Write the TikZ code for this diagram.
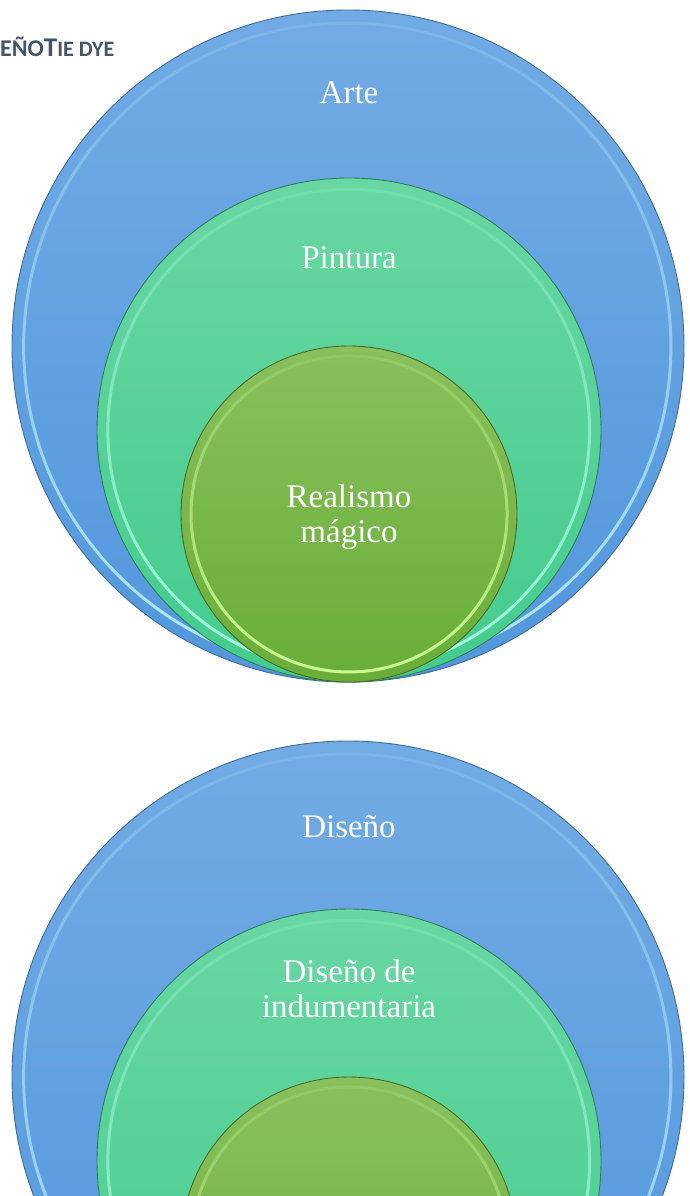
\documentclass[tikz,border=0pt]{standalone}
\usepackage{fontspec}
\setmainfont{Liberation Serif}
\newfontfamily\titlefont{Carlito}
\usetikzlibrary{fadings}
\definecolor{blueTop}{HTML}{72ABE4}
\definecolor{blueBot}{HTML}{5297DC}
\definecolor{blueEdge}{HTML}{3E6E9F}
\definecolor{blueLight}{HTML}{B4ECFF}
\definecolor{tealTop}{HTML}{69D7A3}
\definecolor{tealBot}{HTML}{44CB8D}
\definecolor{tealEdge}{HTML}{2F7F5C}
\definecolor{tealLight}{HTML}{A6FFE0}
\definecolor{greenTop}{HTML}{89C15D}
\definecolor{greenBot}{HTML}{69AD38}
\definecolor{greenEdge}{HTML}{4A6A27}
\definecolor{greenLight}{HTML}{CCFF96}
\definecolor{titlecol}{HTML}{44546A}
\tikzfading[name=rimfade, top color=transparent!85, bottom color=transparent!0]
\tikzset{
  blob/.style={circle, inner sep=0pt, minimum size=#1, line width=0.9pt},
  bluedisc/.style={blob=#1, draw=blueEdge, top color=blueTop, bottom color=blueBot},
  tealdisc/.style={blob=#1, draw=tealEdge, top color=tealTop, bottom color=tealBot},
  greendisc/.style={blob=#1, draw=greenEdge, top color=greenTop, bottom color=greenBot},
  rim/.style={line width=3pt, path fading=rimfade},
  lbl/.style={text=white, font=\fontsize{33}{35}\selectfont, align=center, inner sep=0pt},
  ttl/.style={text=titlecol, font=\titlefont\bfseries, inner sep=0pt, anchor=base west}
}
\begin{document}
\begin{tikzpicture}[x=1pt, y=-1pt]
\useasboundingbox (0,0) rectangle (689,1196);
\clip (0,0) rectangle (689,1196);
% ---- top diagram
\node[bluedisc=672pt] (arteC) at (348,346) {};
\draw[rim, blueLight] (arteC.center) circle[radius=324pt];
\node[tealdisc=504pt] (pintC) at (349,430) {};
\draw[rim, tealLight] (pintC.center) circle[radius=241pt];
\node[greendisc=336pt] (realC) at (349,514) {};
\draw[rim, greenLight] (realC.center) circle[radius=158pt];
\node[lbl, anchor=base] (arte) at (349,104) {Arte};
\node[lbl, anchor=base] (pint) at (349,268) {Pintura};
\node[lbl, anchor=center] (real) at (349,517) {Realismo\\mágico};
% ---- bottom diagram
\node[bluedisc=672pt] (disC) at (348,1077) {};
\draw[rim, blueLight] (disC.center) circle[radius=324pt];
\node[tealdisc=504pt] (induC) at (349,1161) {};
\draw[rim, tealLight] (induC.center) circle[radius=241pt];
\node[greendisc=336pt] (tieC) at (349,1245) {};
\draw[rim, greenLight] (tieC.center) circle[radius=158pt];
\node[lbl, anchor=base] (dis) at (349,837) {Diseño};
\node[lbl, anchor=center] (indu) at (349,989) {Diseño de\\indumentaria};
% ---- title
\node[ttl] (title) at (0,57) {{\fontsize{24}{24}\selectfont EÑO}{\fontsize{27}{27}\selectfont T}{\fontsize{22}{22}\selectfont IE DYE}};
\end{tikzpicture}
\end{document}
